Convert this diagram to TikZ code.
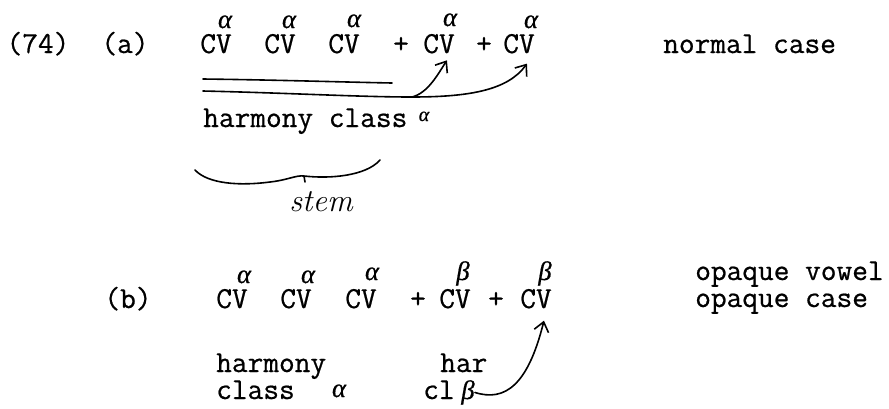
\documentclass[tikz,border=0pt]{standalone}
\usepackage{fontspec}
\setmonofont{Latin Modern Mono}[FakeBold=0.7]
\newfontfamily\greek{Liberation Serif}[FakeBold=0.6]
\usetikzlibrary{arrows.meta}

\begin{document}
\begin{tikzpicture}[x=0.75pt,y=-0.75pt,>={Straight Barb[length=7pt,width=11pt]},
    tw/.style={font=\ttfamily\fontsize{22.86}{26}\selectfont,inner sep=0pt,anchor=base},
    twl/.style={tw,anchor=base west},
    grk/.style={font=\greek\itshape\fontsize{20}{20}\selectfont,inner sep=0pt,anchor=base},
    hand/.style={line width=1.2pt,line cap=round,line join=round}]
  \useasboundingbox (0,0) rectangle (889,408);
  \node[tw] (n74) at (38,53) {(74)};
  \node[tw] (la) at (125,53) {(a)};
  \foreach \n/\x in {1/216,2/280,3/344,4/439,5/519}
    \node[tw] (a\n) at (\x,53) {CV};
  \node[tw] (pa1) at (401,53) {+};
  \node[tw] (pa2) at (484,53) {+};
  \foreach \n/\x/\y in {1/225/28,2/289/28,3/354/27,4/450/26,5/531/28}
    \node[grk] (ala\n) at (\x,\y) {α};
  \node[twl] (normal) at (663,53) {normal case};
  \draw[hand] (203,79) .. controls (280,80) and (340,82) .. (392,83);
  \coordinate (fork) at (412,97);
  \draw[hand] (203,91) .. controls (290,93) and (360,97) .. (fork);
  \draw[hand,->] (fork) .. controls (428,93) and (438,74) .. ([xshift=-6pt,yshift=-5pt]a4.south east);
  \draw[hand,->] (fork) .. controls (470,97) and (508,90) .. ([xshift=-6pt,yshift=-7.5pt]a5.south east);
  \node[twl] (hca) at (203,127) {harmony class};
  \node[grk,font=\greek\itshape\fontsize{15}{15}\selectfont] (hcaal) at (424,121) {α};
  \draw[hand] (195,170) .. controls (208,184) and (240,186) .. (270,182)
    .. controls (288,180) and (296,175) .. (304,176) -- (305,182)
    (304,176) .. controls (330,179) and (366,176) .. (380,160);
  \node[font=\itshape\fontsize{24}{24}\selectfont,inner sep=0pt,anchor=base] (stem) at (321,211) {stem};
  \node[tw] (lb) at (128,308) {(b)};
  \foreach \n/\x in {1/232,2/296,3/361,4/455,5/536}
    \node[tw] (b\n) at (\x,308) {CV};
  \node[tw] (pb1) at (418,308) {+};
  \node[tw] (pb2) at (496,308) {+};
  \foreach \n/\x/\y in {1/244/283,2/308/283,3/372/280}
    \node[grk] (alb\n) at (\x,\y) {α};
  \node[grk] (beb4) at (463,280) {β};
  \node[grk] (beb5) at (545,280) {β};
  \node[twl] (opv) at (695,280) {opaque vowel};
  \node[twl] (opc) at (695,307) {opaque case};
  \node[twl] (hb1) at (216,372) {harmony};
  \node[twl] (hb2) at (216,399) {class};
  \node[grk] (hb2al) at (339,397) {α};
  \node[twl] (har) at (440,372) {har};
  \node[twl] (cl) at (423,399) {cl};
  \node[grk] (clbe) at (468,399) {β};
  \draw[hand,->] (clbe.east) .. controls (505,402) and (528,385) .. ([xshift=-6pt,yshift=-9pt]b5.south east);
\end{tikzpicture}
\end{document}
